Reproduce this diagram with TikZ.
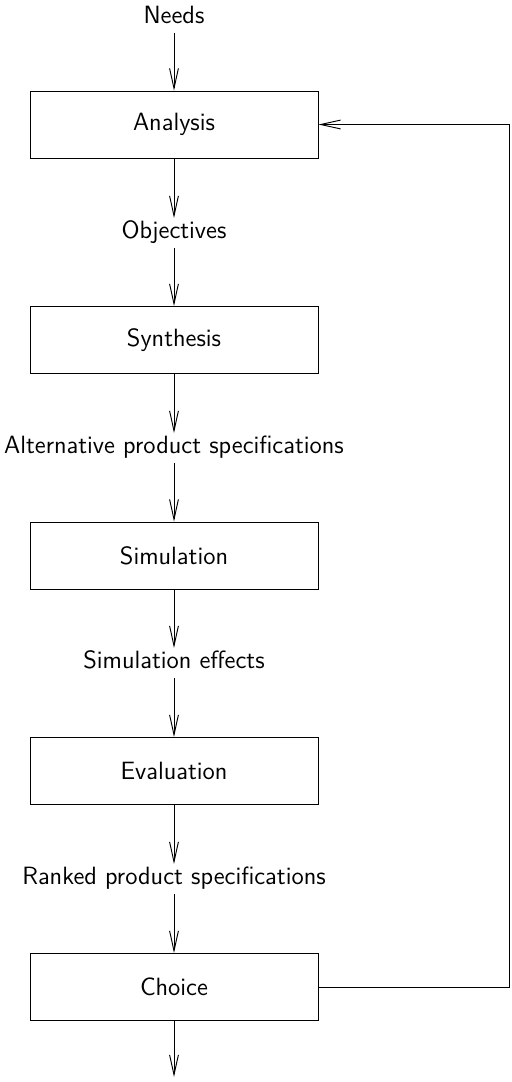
\documentclass[tikz,border=0pt]{standalone}
\usetikzlibrary{arrows.meta}
\begin{document}
\begin{tikzpicture}[x=0.476pt,y=-0.476pt,
  font=\sffamily\fontsize{11.9}{14}\selectfont,
  line width=0.45pt,
  stagebox/.style={draw, minimum width=288*0.476pt, minimum height=67*0.476pt, inner sep=0pt},
  flowlabel/.style={inner sep=2.8pt, text height=1.6ex, text depth=0.3ex},
  flow/.style={-{Straight Barb[length=9.5pt,width=4.2pt]}}]
  \useasboundingbox (0,0) rectangle (511,1082);

  % stages of the design process
  \node[stagebox] (analysis)   at (174,124.5) {Analysis};
  \node[stagebox] (synthesis)  at (174,340)   {Synthesis};
  \node[stagebox] (simulation) at (174,555.5) {Simulation};
  \node[stagebox] (evaluation) at (174,771)   {Evaluation};
  \node[stagebox] (choice)     at (174,987)   {Choice};

  % intermediate results
  \node[flowlabel] (needs)  at (174,18)    {Needs};
  \node[flowlabel] (obj)    at (174,233)   {Objectives};
  \node[flowlabel] (alt)    at (174,448)   {Alternative product specifications};
  \node[flowlabel] (eff)    at (174,663)   {Simulation effects};
  \node[flowlabel] (ranked) at (174,879)   {Ranked product specifications};

  \coordinate (out)  at (174,1077);
  \coordinate (rail) at (509.5,0);

  % main flow
  \draw[flow] (needs) -- (analysis);
  \draw[flow] (analysis) -- (obj);
  \draw[flow] (obj) -- (synthesis);
  \draw[flow] (synthesis) -- (alt);
  \draw[flow] (alt) -- (simulation);
  \draw[flow] (simulation) -- (eff);
  \draw[flow] (eff) -- (evaluation);
  \draw[flow] (evaluation) -- (ranked);
  \draw[flow] (ranked) -- (choice);
  \draw[flow] (choice) -- (out);

  % feedback loop
  \draw[flow] (choice.east) -- (choice.east -| rail) -- (analysis.east -| rail) -- (analysis.east);
\end{tikzpicture}
\end{document}
